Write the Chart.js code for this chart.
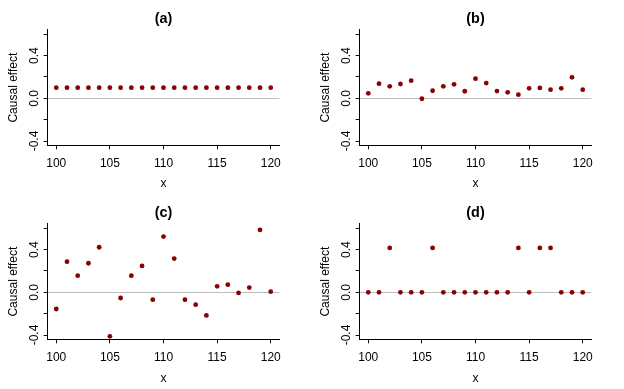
<!DOCTYPE html>
<html>
<head>
<meta charset="utf-8">
<script src="https://cdn.jsdelivr.net/npm/chart.js@4.4.1/dist/chart.umd.min.js"></script>
<style>
  html, body { margin: 0; padding: 0; background: #fff; }
  #wrap { position: relative; width: 624px; height: 389px; }
  .panel { position: absolute; width: 312px; }
  canvas { display: block; }
</style>
</head>
<body>
<div id="wrap">
  <div class="panel" style="left:0;top:0"><canvas id="panelA" width="312" height="194"></canvas></div>
  <div class="panel" style="left:312px;top:0"><canvas id="panelB" width="312" height="194"></canvas></div>
  <div class="panel" style="left:0;top:194px"><canvas id="panelC" width="312" height="195"></canvas></div>
  <div class="panel" style="left:312px;top:194px"><canvas id="panelD" width="312" height="195"></canvas></div>
</div>
<script>
// valores
const xValues = [100, 101, 102, 103, 104, 105, 106, 107, 108, 109, 110,
                 111, 112, 113, 114, 115, 116, 117, 118, 119, 120];
const effectA = [0.1, 0.1, 0.1, 0.1, 0.1, 0.1, 0.1, 0.1, 0.1, 0.1, 0.1,
                 0.1, 0.1, 0.1, 0.1, 0.1, 0.1, 0.1, 0.1, 0.1, 0.1];
const effectB = [0.047, 0.137, 0.112, 0.134, 0.165, -0.004, 0.071, 0.112, 0.131, 0.066, 0.184,
                 0.143, 0.068, 0.056, 0.034, 0.094, 0.097, 0.081, 0.094, 0.197, 0.081];
const effectC = [-0.156, 0.287, 0.156, 0.272, 0.422, -0.412, -0.053, 0.156, 0.247, -0.069, 0.522,
                 0.316, -0.069, -0.116, -0.216, 0.056, 0.072, -0.006, 0.044, 0.584, 0.006];
const effectD = [0, 0, 0.416, 0, 0, 0, 0.416, 0, 0, 0, 0,
                 0, 0, 0, 0.416, 0, 0.416, 0.416, 0, 0, 0];
const panelTitles = ['(a)', '(b)', '(c)', '(d)'];
const xTicks = [100, 105, 110, 115, 120];
const yTicks = [-0.4, -0.2, 0, 0.2, 0.4, 0.6];
const yTickLabels = ['-0.4', '', '0.0', '', '0.4', ''];
const xLimits = [99.2, 120.8];
const yLimits = [-0.44, 0.64];

const FONT = '"Liberation Sans", Arial, Helvetica, sans-serif';
const PLOT_BOTTOM = 145.3;

function dibujarPanel(id, titulo, valores) {
    const canvas = document.getElementById(id);
    const alto = canvas.height;
    new Chart(canvas.getContext('2d'), {
        type: 'scatter',
        data: {
            datasets: [{
                data: xValues.map((x, i) => ({ x: x, y: valores[i] })),
                backgroundColor: '#8b0000',
                borderColor: '#8b0000',
                borderWidth: 0,
                pointRadius: 2.4,
                pointHoverRadius: 2.4
            }]
        },
        options: {
            responsive: false,
            animation: false,
            devicePixelRatio: 1,
            // el titulo queda centrado sobre el area del grafico (como en R)
            layout: { padding: { top: 0, right: 0, bottom: 0, left: 15 } },
            plugins: {
                legend: { display: false },
                tooltip: { enabled: false },
                title: {
                    display: true,
                    text: titulo,
                    color: '#000',
                    font: { family: FONT, size: 14.4, weight: 'bold', lineHeight: 1.2 },
                    padding: { top: 10, bottom: 2.7 }
                }
            },
            scales: {
                x: {
                    type: 'linear',
                    min: xLimits[0],
                    max: xLimits[1],
                    afterBuildTicks: s => { s.ticks = xTicks.map(v => ({ value: v })); },
                    afterFit: s => { s.height = alto - PLOT_BOTTOM; },
                    grid: { drawOnChartArea: false, drawTicks: true, tickLength: 4, color: '#000', tickColor: '#000' },
                    border: { display: true, color: '#000', width: 1 },
                    ticks: {
                        color: '#000',
                        font: { family: FONT, size: 12 },
                        padding: 7.5,
                        maxRotation: 0,
                        autoSkip: false,
                        callback: v => String(v)
                    },
                    title: {
                        display: true,
                        text: 'x',
                        color: '#000',
                        font: { family: FONT, size: 12 },
                        padding: { top: 0, bottom: 2.8 }
                    }
                },
                y: {
                    type: 'linear',
                    min: yLimits[0],
                    max: yLimits[1],
                    afterBuildTicks: s => { s.ticks = yTicks.map(v => ({ value: v })); },
                    afterFit: s => { s.width = 32.7; },
                    grid: {
                        drawOnChartArea: true,
                        drawTicks: true,
                        tickLength: 4,
                        color: c => (c.tick && c.tick.value === 0) ? '#bebebe' : 'rgba(0,0,0,0)',
                        tickColor: '#000'
                    },
                    border: { display: true, color: '#000', width: 1 },
                    ticks: {
                        color: '#000',
                        font: { family: FONT, size: 12 },
                        padding: -1,
                        minRotation: 90,
                        maxRotation: 90,
                        crossAlign: 'center',
                        autoSkip: false,
                        callback: v => yTickLabels[yTicks.indexOf(v)] ?? ''
                    },
                    title: {
                        display: true,
                        text: 'Causal effect',
                        color: '#000',
                        font: { family: FONT, size: 12 },
                        padding: { top: -8.9, bottom: 0 }
                    }
                },
                // margen derecho vacio
                margenDerecho: {
                    type: 'linear',
                    position: 'right',
                    display: true,
                    afterFit: s => { s.width = 32.7; },
                    grid: { display: false },
                    border: { display: false },
                    ticks: { display: false }
                }
            }
        }
    });
}

dibujarPanel('panelA', panelTitles[0], effectA);
dibujarPanel('panelB', panelTitles[1], effectB);
dibujarPanel('panelC', panelTitles[2], effectC);
dibujarPanel('panelD', panelTitles[3], effectD);
</script>
</body>
</html>
